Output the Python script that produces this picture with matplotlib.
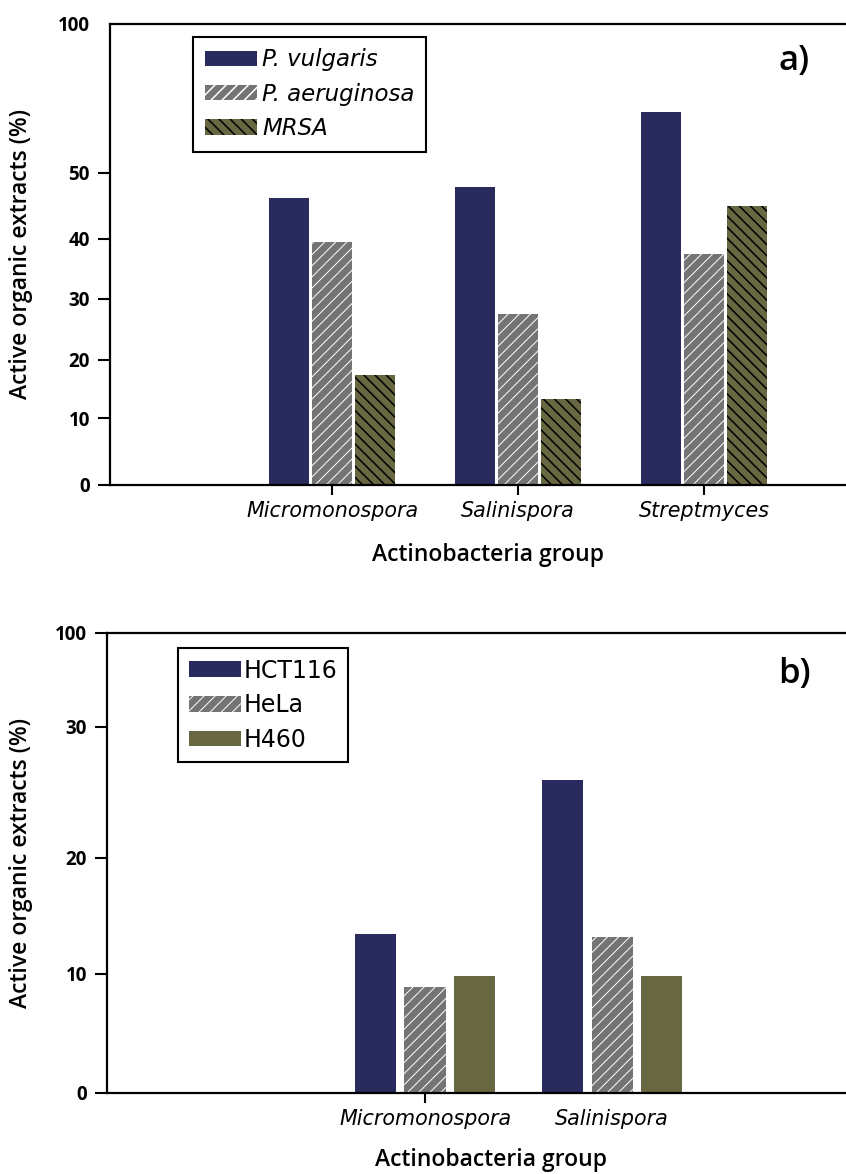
import numpy as np
import matplotlib.pyplot as plt

# panel a) antibacterial activity
groups_a = ['Micromonospora', 'Salinispora', 'Streptmyces']
vulgaris = [46.2, 47.9, 70.5]
aeruginosa = [39.5, 27.5, 37.5]
mrsa = [17.4, 13.3, 45.0]

# panel b) cytotoxic activity
groups_b = ['Micromonospora', 'Salinispora']
hct116 = [13.4, 25.9]
hela = [8.9, 13.2]
h460 = [9.8, 9.8]

yticks_a = [0, 10, 20, 30, 40, 50, 100]
yticks_b = [0, 10, 20, 30, 100]
# the original y axes are not linear: where each tick sits (fraction of axis height)
frac_a = [0, 0.145, 0.271, 0.404, 0.534, 0.677, 1.0]
frac_b = [0, 0.259, 0.511, 0.796, 1.0]

navy = '#292a5e'
grey = '#747474'
olive = '#676741'

num_font = 'Open Sans'
arial_like = 'DejaVu Sans'


def setup(ax, ticks, fracs, groups, xlim):
    ax.set_yscale('function', functions=(lambda v: np.interp(v, ticks, fracs),
                                         lambda f: np.interp(f, fracs, ticks)))
    ax.set_ylim(0, 100)
    ax.set_yticks(ticks)
    ax.set_yticklabels([str(t) for t in ticks], family=num_font, weight='bold', fontsize=13.5)
    ax.set_xlim(*xlim)
    ax.set_xticks(np.arange(1, len(groups) + 1))
    ax.set_xticklabels(groups, family=arial_like, style='italic', fontsize=14.9)
    ax.tick_params(axis='y', length=8.5, width=1.5, pad=6)
    ax.tick_params(axis='x', length=7.5, width=1.5, pad=4)
    for s in ['left', 'bottom', 'top']:
        ax.spines[s].set_linewidth(1.6)
    ax.spines['right'].set_visible(False)
    ax.set_ylabel('Active organic extracts (%)', family=num_font, weight='semibold', fontsize=16.5)
    ax.set_xlabel('Actinobacteria group', family=num_font, weight='semibold', fontsize=16.5)


fig = plt.figure(figsize=(8.46, 11.74), dpi=100)

# ---- a)
ax1 = fig.add_axes([0.130, 0.587, 0.870, 0.3927])
x = np.arange(1, len(groups_a) + 1)
w = 0.215
off = 0.231
ax1.bar(x - off, vulgaris, w, color=navy, linewidth=0, label='P. vulgaris')
plt.rcParams['hatch.linewidth'] = 0.7
ax1.bar(x, aeruginosa, w, color=grey, edgecolor='white', linewidth=0, hatch='///', label='P. aeruginosa')
plt.rcParams['hatch.linewidth'] = 1.1
ax1.bar(x + off, mrsa, w, color=olive, edgecolor='black', linewidth=0, hatch='\\\\\\', label='MRSA')
setup(ax1, yticks_a, frac_a, groups_a, (-0.194, 3.763))
ax1.yaxis.get_major_ticks()[-1].tick1line.set_visible(False)
ax1.yaxis.set_label_coords(-0.105, 0.5)
ax1.xaxis.set_label_coords(0.514, -0.126)
leg = ax1.legend(loc='upper left', bbox_to_anchor=(0.113, 0.972), borderaxespad=0,
                 prop={'family': arial_like, 'style': 'italic', 'size': 16.5},
                 fancybox=False, edgecolor='black', framealpha=1,
                 handlelength=2.3, handleheight=0.65, handletextpad=0.2,
                 labelspacing=0.5, borderpad=0.5)
leg.get_frame().set_linewidth(1.5)
ax1.text(0.93, 0.92, 'a)', transform=ax1.transAxes, family=num_font, weight='semibold',
         fontsize=25, ha='center', va='center')

# ---- b)
ax2 = fig.add_axes([0.1265, 0.069, 0.8735, 0.392])
x = np.arange(1, len(groups_b) + 1)
w = 0.22
off = 0.264
ax2.bar(x - off, hct116, w, color=navy, linewidth=0, label='HCT116')
plt.rcParams['hatch.linewidth'] = 0.7
ax2.bar(x, hela, w, color=grey, edgecolor='white', linewidth=0, hatch='///', label='HeLa')
ax2.bar(x + off, h460, w, color=olive, linewidth=0, label='H460')
setup(ax2, yticks_b, frac_b, groups_b, (-0.70, 3.25))
ax2.xaxis.get_major_ticks()[1].tick1line.set_visible(False)
ax2.yaxis.set_label_coords(-0.100, 0.5)
ax2.xaxis.set_label_coords(0.52, -0.12)
leg = ax2.legend(loc='upper left', bbox_to_anchor=(0.096, 0.967), borderaxespad=0,
                 prop={'family': arial_like, 'size': 17},
                 fancybox=False, edgecolor='black', framealpha=1,
                 handlelength=2.2, handleheight=0.65, handletextpad=0.15,
                 labelspacing=0.45, borderpad=0.45)
leg.get_frame().set_linewidth(1.5)
ax2.text(0.93, 0.91, 'b)', transform=ax2.transAxes, family=num_font, weight='semibold',
         fontsize=25, ha='center', va='center')

fig.savefig('out.png', dpi=100)
